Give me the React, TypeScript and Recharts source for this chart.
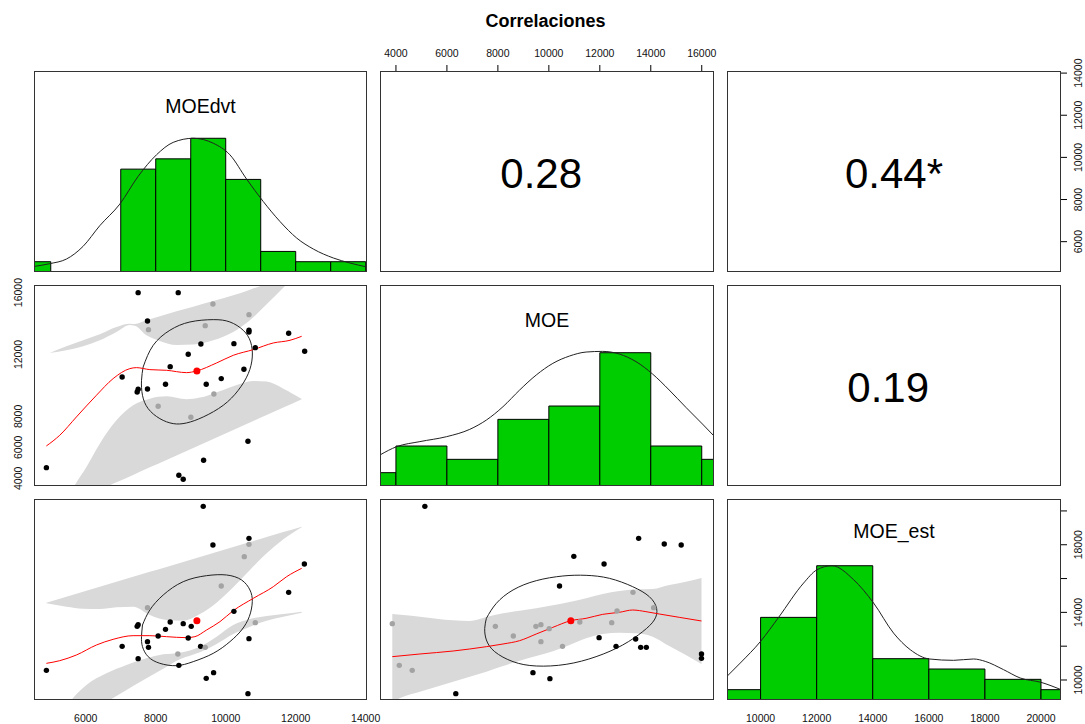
import { ComposedChart, XAxis, YAxis, Line, Area, Scatter, ReferenceArea } from 'recharts'

const FONT = '"Liberation Sans", Arial, Helvetica, sans-serif'
const GREEN = '#00cd00'
const BAND = '#d9d9d9'
const GREY_PT = '#a3a3a3'
const TICK_FS = 10.5

// panel boxes (page px)
const cols = [{ x: 34, w: 333 }, { x: 380, w: 334 }, { x: 727, w: 334 }]
const rows = [{ y: 71, h: 201 }, { y: 285, h: 201 }, { y: 499, h: 201 }]
const AXH = 26
const AXW = 34
const AXWR = 24
const PAD = 16

// plot limits of each variable
const moedvtLim = [4521, 14037]
const moedvtRowLim = [4560, 14100]
const moeColLim = [3374, 16481]
const moeRowLim = [3502, 16491]
const estColLim = [8802, 20713]
const estRowLim = [8817, 20706]

// tick values / labels
const moedvtTicks = [6000, 8000, 10000, 12000, 14000]
const moeTicks = [4000, 6000, 8000, 10000, 12000, 14000, 16000]
const moeRowLabels = [4000, 6000, 8000, 12000, 16000]
const estTicks = [10000, 12000, 14000, 16000, 18000, 20000]
const estRowLabels = [10000, 14000, 18000]

const varNames = ['MOEdvt', 'MOE', 'MOE_est']
const corrCells = [[0, 1], [0, 2], [1, 2]]
const corrText = ['0.28\u00a0', '0.44*', '0.19\u00a0']

// histograms
const moedvtEdges = [4000, 5000, 6000, 7000, 8000, 9000, 10000, 11000, 12000, 13000, 14000]
const moedvtCounts = [1, 0, 0, 10, 11, 13, 9, 2, 1, 1]
const moedvtDens = [[4521, 0.54], [4970, 0.81], [5448, 1.26], [5923, 2.49], [6400, 4.5], [6973, 6.6], [7497, 9.3], [8023, 11.4], [8498, 12.6], [9070, 13.0], [9642, 12.52], [10120, 11.39], [10597, 9.03], [11073, 6.85], [11550, 4.91], [12028, 3.3], [12504, 2.23], [13076, 1.36], [13553, 0.87], [14030, 0.49]]

const moeEdges = [2000, 4000, 6000, 8000, 10000, 12000, 14000, 16000, 18000]
const moeCounts = [1, 3, 2, 5, 6, 10, 3, 2]
const moeDens = [[3374, 2.33], [4026, 2.95], [4939, 3.33], [5984, 3.7], [6896, 4.25], [7550, 4.95], [8200, 5.95], [8853, 7.2], [9507, 8.33], [10157, 9.2], [10810, 9.75], [11464, 10.05], [12114, 10.1], [12767, 9.9], [13421, 9.33], [14071, 8.4], [14724, 7.2], [15378, 5.9], [16028, 4.65], [16481, 3.75]]

const estEdges = [8000, 10000, 12000, 14000, 16000, 18000, 20000, 22000]
const estCounts = [1, 8, 13, 4, 3, 2, 1]
const estDens = [[8802, 2.29], [9276, 3.58], [10000, 5.68], [10642, 8.0], [11533, 11.32], [12011, 12.61], [12545, 13.0], [13316, 11.65], [14029, 9.39], [14741, 6.48], [15337, 4.87], [16025, 3.97], [16880, 3.84], [17594, 3.97], [18011, 3.74], [18663, 2.94], [19258, 2.13], [20000, 1.71], [20713, 1.0]]

// MOEdvt (x) vs MOE (y)
const p21Black = [[7497, 15998], [8642, 15998], [7764, 14167], [10664, 13564], [10664, 13456], [11798, 13370], [9290, 12681], [10234, 12702], [10845, 12444], [12256, 12207], [8928, 12013], [8413, 11216], [10520, 11044], [7040, 10548], [9872, 10441], [8279, 10074], [9443, 10074], [7764, 9773], [7497, 9751], [7469, 9579], [10635, 6391], [9367, 5163], [4875, 4689], [8661, 4194], [8785, 3935]]
const p21Grey = [[9634, 15265], [10664, 14576], [7793, 13607], [9414, 13865], [9662, 9450], [8069, 8653], [9004, 7942]]
const p21Mean = [[9176, 10936]]
const p21Loess = [[4875, 6089], [5256, 6779], [5733, 7964], [6305, 9364], [6782, 10441], [7259, 11087], [7450, 11151], [7831, 11022], [8308, 10979], [8880, 10828], [9166, 10936], [9739, 11453], [10215, 11948], [10788, 12315], [11360, 12745], [11837, 12918], [12170, 13176]]
const p21Ellipse = [[7640, 11194], [7927, 12594], [8403, 13564], [8976, 14102], [9643, 14253], [10120, 14102], [10501, 13564], [10711, 12810], [10759, 11841], [10644, 10764], [10358, 9687], [9929, 8717], [9357, 7963], [8880, 7576], [8499, 7533], [8117, 7856], [7783, 8502], [7621, 9364], [7593, 10333], [7640, 11194]]
const p21BandHi = [[4970, 12099, 12099], [5447, 12271, 12530], [5924, 12530, 12918], [6401, 12918, 13305], [6877, 13456, 13779], [7259, 13908, 13995], [7402, 13865, 13973], [7736, 13241, 14210], [8117, 12875, 14469], [8594, 12616, 14792], [9071, 12638, 15093], [9643, 12918, 15459], [10215, 13456, 15826], [10692, 14210, 16192], [11169, 15244, 16579], [11741, 16536, 17226]]
const p21BandLo = [[5447, 2299, 2579], [5685, 2536, 3548], [6019, 2859, 4732], [6401, 3246, 6240], [6877, 3742, 7748], [7354, 4215, 8717], [7831, 4711, 9148], [8308, 5185, 9299], [8880, 5766, 9105], [9262, 6154, 9213], [9643, 6542, 9471], [10215, 7123, 9945], [10788, 7705, 10290], [11169, 8093, 10247], [11646, 8567, 9794], [12171, 9105, 9126]]

// MOEdvt (x) vs MOE_est (y)
const p31Black = [[9357, 20272], [9634, 17985], [10664, 18379], [12247, 16861], [11798, 15185], [10234, 14061], [8413, 13431], [8785, 13332], [9014, 13174], [7497, 13273], [7469, 13174], [8279, 12997], [8069, 12603], [8928, 12484], [10664, 12445], [7764, 12267], [7040, 11991], [7793, 11932], [9281, 11991], [7497, 11262], [8661, 10868], [4875, 10572], [9653, 10434], [9443, 10099], [10635, 9192]]
const p31Grey = [[10664, 18025], [10530, 17295], [9872, 15560], [7764, 14279], [10845, 13391], [9414, 11932], [8632, 11538]]
const p31Mean = [[9176, 13510]]
const p31Loess = [[4875, 10986], [5256, 11143], [5733, 11479], [6305, 12070], [6782, 12405], [7354, 12622], [7831, 12622], [8308, 12563], [8880, 12504], [9119, 12563], [9452, 12957], [9834, 13450], [10215, 14101], [10788, 14830], [11360, 15520], [11741, 16112], [12171, 16605]]
const p31Ellipse = [[7621, 13253], [7831, 14140], [8213, 15027], [8785, 15816], [9452, 16171], [10025, 16211], [10454, 15915], [10692, 15324], [10759, 14634], [10673, 13746], [10454, 12957], [10120, 12267], [9643, 11577], [9071, 11085], [8594, 10848], [8117, 10986], [7783, 11380], [7621, 11972], [7593, 12563], [7621, 13253]]
const p31BandHi = [[4875, 14535, 14574], [5447, 14337, 14929], [5924, 14219, 15225], [6401, 14200, 15521], [6877, 14298, 15816], [7354, 14337, 16102], [7831, 13845, 16396], [8308, 13549, 16690], [8785, 13510, 16984], [9262, 13904, 17275], [9739, 14574, 17571], [10215, 15481, 17867], [10692, 16506, 18163], [11169, 17492, 18458], [11646, 18320, 18754], [12171, 19030, 19070]]
const p31BandLo = [[5352, 7141, 8127], [5590, 7437, 8817], [6019, 7969, 9704], [6591, 8699, 10394], [7164, 9409, 10887], [7736, 10099, 11282], [8213, 10671, 11518], [8690, 11223, 11617], [9262, 11637, 11971], [9739, 12130, 12563], [10215, 12722, 13253], [10692, 13155, 13608], [11169, 13510, 13786], [11646, 13746, 13904], [12171, 13982, 14042]]

// MOE (x) vs MOE_est (y)
const p32Black = [[5135, 20272], [13524, 18379], [14529, 18044], [15194, 17985], [10980, 17315], [12167, 16861], [10419, 15560], [11972, 12504], [13407, 12425], [12637, 11991], [13603, 11932], [13825, 11932], [15990, 11538], [15990, 11282], [9376, 10434], [10041, 10079], [6349, 9192]]
const p32Grey = [[3857, 13332], [4130, 10867], [4639, 10572], [7901, 13174], [8606, 12603], [9493, 13174], [9689, 13273], [10015, 13036], [9689, 12267], [10536, 11991], [11215, 13431], [12467, 13391], [12676, 14081], [13302, 15185], [14111, 14279]]
const p32Mean = [[10863, 13510]]
const p32Loess = [[3857, 11380], [4939, 11538], [6244, 11715], [7549, 11972], [8201, 12129], [8854, 12327], [9506, 12721], [10158, 13115], [10863, 13510], [11463, 13648], [12115, 13884], [12768, 14003], [13290, 14140], [13811, 14042], [14333, 13904], [15116, 13707], [15990, 13490]]
const p32Ellipse = [[7549, 13648], [7940, 14535], [8593, 15324], [9506, 15876], [10550, 16152], [11463, 16191], [12376, 16014], [13290, 15521], [13942, 14930], [14229, 14240], [14138, 13549], [13681, 12859], [12898, 12070], [11854, 11380], [10680, 10927], [9506, 10828], [8593, 11085], [7875, 11676], [7549, 12366], [7484, 13056], [7549, 13648]]
const p32Band = [[3857, 8700, 13904], [4287, 9014, 13845], [4939, 9310, 13746], [5592, 9606, 13628], [6244, 9901, 13529], [6896, 10197, 13490], [7549, 10493, 13727], [8201, 10828, 13943], [8854, 11144, 14101], [9506, 11420, 14239], [10158, 11696, 14417], [10811, 12070, 14614], [11463, 12464, 14831], [12115, 12721, 15087], [12768, 12800, 15264], [13420, 12760, 15363], [14073, 12563, 15383], [14725, 12011, 15619], [15377, 11479, 15817], [15990, 10946, 16034]]

const pts = (a: number[][]) => a.map(([x, y]) => ({ x, y }))
const band = (a: number[][]) => a.map(([x, lo, hi]) => ({ x, band: [lo, hi] }))

const dot = (fill: string, r: number) => (p: any) => <circle cx={p.cx} cy={p.cy} r={r} fill={fill} />

function histItems(edges: number[], counts: number[], dens: number[][]) {
  return [
    ...counts.map((n, i) =>
      n > 0 ? (
        <ReferenceArea
          key={'bin' + i}
          x1={edges[i]}
          x2={edges[i + 1]}
          y1={0}
          y2={n}
          ifOverflow="hidden"
          fill={GREEN}
          fillOpacity={1}
          stroke="#000"
          strokeWidth={1}
        />
      ) : null
    ),
    <Line key="dens" data={pts(dens)} dataKey="y" type="monotone" stroke="#222" strokeWidth={1} dot={false} activeDot={false} isAnimationActive={false} />,
  ]
}

function scatterItems(bands: number[][][], ellipse: number[][], loess: number[][], black: number[][], grey: number[][], mean: number[][]) {
  return [
    ...bands.map((b, i) => (
      <Area key={'band' + i} data={band(b)} dataKey="band" type="monotone" stroke="none" fill={BAND} fillOpacity={1} activeDot={false} isAnimationActive={false} />
    )),
    <Line key="ell" data={pts(ellipse)} dataKey="y" type="natural" stroke="#222" strokeWidth={1} dot={false} activeDot={false} isAnimationActive={false} />,
    <Line key="loess" data={pts(loess)} dataKey="y" type="monotone" stroke="#ff0000" strokeWidth={1} dot={false} activeDot={false} isAnimationActive={false} />,
    <Scatter key="blk" data={pts(black)} fill="#000" shape={dot('#000', 2.7)} isAnimationActive={false} />,
    <Scatter key="gry" data={pts(grey)} fill={GREY_PT} shape={dot(GREY_PT, 2.7)} isAnimationActive={false} />,
    <Scatter key="mean" data={pts(mean)} fill="#ff0000" shape={dot('#ff0000', 3.5)} isAnimationActive={false} />,
  ]
}

type PanelProps = {
  col: number
  row: number
  xLim: number[]
  yLim: number[]
  xSide?: 'top' | 'bottom'
  ySide?: 'left' | 'right'
  axisYLim?: number[]
  xTicks?: number[]
  xLabels?: number[]
  yTicks?: number[]
  yLabels?: number[]
  children?: any
}

function Panel({ col, row, xLim, yLim, xSide, ySide, axisYLim, xTicks, xLabels, yTicks, yLabels, children }: PanelProps) {
  const c = cols[col]
  const r = rows[row]
  const padL = ySide === 'left' ? AXW : 0
  const padR = ySide === 'right' ? AXWR : 0
  const padT = xSide === 'top' ? AXH : 0
  const padB = xSide === 'bottom' ? AXH : 0
  const W = c.w + padL + padR + 2 * PAD
  const H = r.h + padT + padB + 2 * PAD
  const ox = PAD + padL
  const oy = PAD + padT

  const xTick = (p: any) => {
    const v = p.payload.value
    if (!xLabels || !xLabels.includes(v)) return <g />
    const y = xSide === 'top' ? oy - 14.5 : oy + r.h + 21.5
    return (
      <text x={p.x} y={y} textAnchor="middle" fontSize={TICK_FS} fontFamily={FONT} fill="#111">
        {v}
      </text>
    )
  }
  const yTick = (p: any) => {
    const v = p.payload.value
    if (!yLabels || !yLabels.includes(v)) return <g />
    const x = ySide === 'left' ? ox - 11.6 : ox + c.w + 21
    return (
      <text x={x} y={p.y} transform={`rotate(-90 ${x} ${p.y})`} textAnchor="middle" fontSize={TICK_FS} fontFamily={FONT} fill="#111">
        {v}
      </text>
    )
  }

  return (
    <div style={{ position: 'absolute', left: c.x - ox, top: r.y - oy, width: W, height: H }}>
      <ComposedChart width={W} height={H} margin={{ top: PAD, right: PAD, bottom: PAD, left: PAD }}>
        <XAxis xAxisId={0} type="number" dataKey="x" domain={xLim} allowDataOverflow hide />
        <YAxis yAxisId={0} type="number" dataKey="y" domain={yLim} allowDataOverflow hide />
        {xSide && (
          <XAxis
            xAxisId="ax"
            type="number"
            dataKey="x"
            orientation={xSide}
            domain={xLim}
            allowDataOverflow
            ticks={xTicks}
            interval={0}
            height={AXH}
            tickSize={6}
            tickLine={{ stroke: '#000' }}
            axisLine={false}
            tick={xTick}
          />
        )}
        {ySide && (
          <YAxis
            yAxisId="ay"
            type="number"
            dataKey="y"
            orientation={ySide}
            domain={axisYLim || yLim}
            allowDataOverflow
            ticks={yTicks}
            interval={0}
            width={ySide === 'left' ? AXW : AXWR}
            tickSize={6}
            tickLine={{ stroke: '#000' }}
            axisLine={false}
            tick={yTick}
          />
        )}
        {children}
      </ComposedChart>
      <div
        style={{
          position: 'absolute',
          left: ox,
          top: oy,
          width: c.w,
          height: r.h,
          border: '1px solid #333',
          boxSizing: 'border-box',
          pointerEvents: 'none',
        }}
      />
    </div>
  )
}

const labelBase = [113, 327, 538]

export default function App() {
  return (
    <div style={{ position: 'fixed', left: 0, top: 0, width: 1085, height: 724, background: '#fff', overflow: 'hidden' }}>
      <Panel col={0} row={0} xLim={moedvtLim} yLim={[0, 19.54]}>
        {histItems(moedvtEdges, moedvtCounts, moedvtDens)}
      </Panel>
      <Panel col={1} row={0} xLim={moeColLim} yLim={moedvtRowLim} xSide="top" xTicks={moeTicks} xLabels={moeTicks} />
      <Panel col={2} row={0} xLim={estColLim} yLim={moedvtRowLim} ySide="right" yTicks={moedvtTicks} yLabels={moedvtTicks} />

      <Panel col={0} row={1} xLim={moedvtLim} yLim={moeRowLim} ySide="left" yTicks={moeTicks} yLabels={moeRowLabels}>
        {scatterItems([p21BandHi, p21BandLo], p21Ellipse, p21Loess, p21Black, p21Grey, p21Mean)}
      </Panel>
      <Panel col={1} row={1} xLim={moeColLim} yLim={[0, 15.08]}>
        {histItems(moeEdges, moeCounts, moeDens)}
      </Panel>
      <Panel col={2} row={1} xLim={estColLim} yLim={moeRowLim} />

      <Panel col={0} row={2} xLim={moedvtLim} yLim={estRowLim} xSide="bottom" xTicks={moedvtTicks} xLabels={moedvtTicks}>
        {scatterItems([p31BandHi, p31BandLo], p31Ellipse, p31Loess, p31Black, p31Grey, p31Mean)}
      </Panel>
      <Panel col={1} row={2} xLim={moeColLim} yLim={estRowLim}>
        {scatterItems([p32Band], p32Ellipse, p32Loess, p32Black, p32Grey, p32Mean)}
      </Panel>
      <Panel
        col={2}
        row={2}
        xLim={estColLim}
        yLim={[0, 19.46]}
        xSide="bottom"
        xTicks={estTicks}
        xLabels={estTicks}
        ySide="right"
        axisYLim={estRowLim}
        yTicks={estTicks}
        yLabels={estRowLabels}
      >
        {histItems(estEdges, estCounts, estDens)}
      </Panel>

      <svg width={1085} height={724} style={{ position: 'absolute', left: 0, top: 0, pointerEvents: 'none' }}>
        <text x={545.5} y={26.5} textAnchor="middle" fontFamily={FONT} fontWeight="bold" fontSize={18} fill="#000">
          Correlaciones
        </text>
        {varNames.map((n, i) => (
          <text key={n} x={cols[i].x + cols[i].w / 2} y={labelBase[i]} textAnchor="middle" fontFamily={FONT} fontSize={19.5} fill="#000">
            {n}
          </text>
        ))}
        {corrCells.map(([ri, ci], k) => (
          <text
            key={k}
            x={cols[ci].x + cols[ci].w / 2}
            y={rows[ri].y + rows[ri].h / 2 + 16.5}
            textAnchor="middle"
            fontFamily={FONT}
            fontSize={42}
            fill="#000"
          >
            {corrText[k]}
          </text>
        ))}
      </svg>
    </div>
  )
}
